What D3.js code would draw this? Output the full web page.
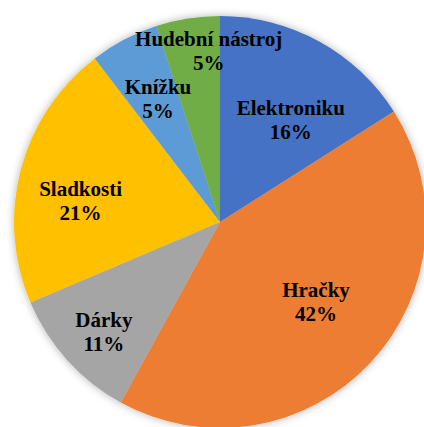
<!DOCTYPE html>
<html>
<head>
<meta charset="utf-8">
<script src="https://cdn.jsdelivr.net/npm/d3@7"></script>
<style>
  html, body { margin: 0; padding: 0; background: #fff; }
  svg { display: block; }
</style>
</head>
<body>
<svg width="424" height="427"></svg>
<script>
const categories = ["Elektroniku", "Hračky", "Dárky", "Sladkosti", "Knížku", "Hudební nástroj"];
const values = [16, 42, 10.6, 21, 5.4, 5];
const colors = ["#4472C4", "#ED7D31", "#A5A5A5", "#FFC000", "#5B9BD5", "#70AD47"];

// label placement (angle in degrees clockwise from top, distance from centre)
const labelAngles = [34.8, 129.8, 226.5, 278.6, 333.3, 356.2];
const labelRadii = [124, 125, 160, 141, 138, 171];

const data = categories.map((c, i) => ({ name: c, value: values[i] }));

const cx = 220, cy = 222, radius = 206;

const svg = d3.select("svg");

// soft shadow around the pie
const defs = svg.append("defs");
const filter = defs.append("filter")
    .attr("id", "shadow")
    .attr("x", "-10%").attr("y", "-10%")
    .attr("width", "120%").attr("height", "120%");
filter.append("feDropShadow")
    .attr("dx", 0).attr("dy", 0)
    .attr("stdDeviation", 4)
    .attr("flood-color", "#000")
    .attr("flood-opacity", 0.3);

const g = svg.append("g")
    .attr("transform", `translate(${cx},${cy})`);

const pie = d3.pie()
    .value(d => d.value)
    .sort(null);

const arc = d3.arc()
    .innerRadius(0)
    .outerRadius(radius);

const color = d3.scaleOrdinal()
    .domain(categories)
    .range(colors);

const arcs = pie(data);

g.append("g")
    .attr("filter", "url(#shadow)")
    .selectAll("path")
    .data(arcs)
    .enter().append("path")
    .attr("d", arc)
    .attr("fill", d => color(d.data.name));

// labels
const labels = g.selectAll(".label")
    .data(arcs)
    .enter().append("text")
    .attr("class", "label")
    .attr("text-anchor", "middle")
    .style("font-family", '"Liberation Serif"')
    .style("font-weight", "bold")
    .style("font-size", "21px")
    .style("fill", "#000")
    .attr("transform", (d, i) => {
        const p = d3.pointRadial(labelAngles[i] * Math.PI / 180, labelRadii[i]);
        return `translate(${p[0]},${p[1]})`;
    });

labels.append("tspan")
    .attr("x", 0)
    .attr("y", -5)
    .text(d => d.data.name);

labels.append("tspan")
    .attr("x", 0)
    .attr("y", 19)
    .text(d => Math.round(d.data.value) + "%");
</script>
</body>
</html>
